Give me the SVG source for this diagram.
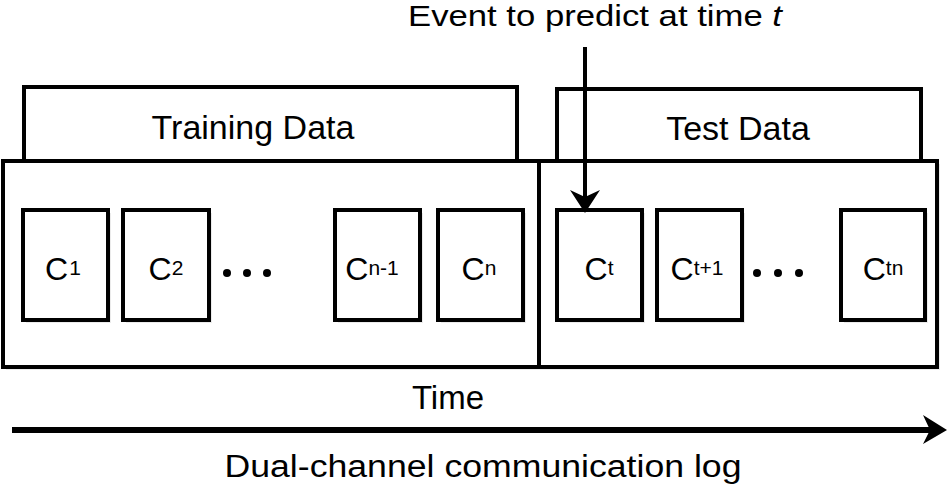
<svg xmlns="http://www.w3.org/2000/svg" width="948" height="487" viewBox="0 0 948 487">
<style>
.box{fill:#fff;stroke:#000;stroke-width:4}
.sh{fill:#ebebeb;stroke:none}
.t{font-family:"Liberation Sans",Arial,sans-serif;fill:#000}
.c{font-size:32px;text-anchor:middle}
.s{font-size:21px}
.dot{fill:#000}
</style>
<rect width="948" height="487" fill="#fff"/>
<g id="training-header">
<rect class="box" x="24" y="87" width="493" height="74"/>
<text class="t" x="253" y="139" font-size="34" text-anchor="middle">Training Data</text>
</g>
<g id="test-header">
<rect class="box" x="557" y="89" width="364" height="72"/>
<text class="t" x="738" y="140" font-size="34" text-anchor="middle">Test Data</text>
</g>
<g id="training-box">
<rect class="sh" x="6" y="164" width="536" height="206"/>
<rect class="box" x="3" y="161" width="536" height="206"/>
</g>
<g id="test-box">
<rect class="sh" x="542" y="164" width="398" height="206"/>
<rect class="box" x="539" y="161" width="398" height="206"/>
</g>
<g id="c1">
<rect class="sh" x="26" y="213" width="85" height="110"/>
<rect class="box" x="23" y="210" width="85" height="110"/>
<text class="t c" x="63" y="280">C<tspan class="s" dx="1" dy="-5">1</tspan></text>
</g>
<g id="c2">
<rect class="sh" x="126" y="213" width="86" height="110"/>
<rect class="box" x="123" y="210" width="86" height="110"/>
<text class="t c" x="166" y="280">C<tspan class="s" dy="-5">2</tspan></text>
</g>
<g id="dots-left">
<circle class="dot" cx="227" cy="273" r="4"/>
<circle class="dot" cx="247" cy="273" r="4"/>
<circle class="dot" cx="267" cy="273" r="4"/>
</g>
<g id="cn-1">
<rect class="sh" x="338" y="213" width="85" height="110"/>
<rect class="box" x="335" y="210" width="85" height="110"/>
<text class="t c" x="372" y="280">C<tspan class="s" dy="-5">n-1</tspan></text>
</g>
<g id="cn">
<rect class="sh" x="441" y="213" width="85" height="110"/>
<rect class="box" x="438" y="210" width="85" height="110"/>
<text class="t c" x="479" y="280">C<tspan class="s" dy="-5">n</tspan></text>
</g>
<g id="ct">
<rect class="sh" x="560" y="213" width="85" height="110"/>
<rect class="box" x="557" y="210" width="85" height="110"/>
<text class="t c" x="599" y="280">C<tspan class="s" dy="-5">t</tspan></text>
</g>
<g id="ct1">
<rect class="sh" x="660" y="213" width="85" height="110"/>
<rect class="box" x="657" y="210" width="85" height="110"/>
<text class="t c" x="697" y="280">C<tspan class="s" dy="-5">t+1</tspan></text>
</g>
<g id="dots-right">
<circle class="dot" cx="757" cy="273" r="4"/>
<circle class="dot" cx="778" cy="273" r="4"/>
<circle class="dot" cx="799" cy="273" r="4"/>
</g>
<g id="ctn">
<rect class="sh" x="844" y="213" width="84" height="110"/>
<rect class="box" x="841" y="210" width="84" height="110"/>
<text class="t c" x="883" y="280">C<tspan class="s" dy="-5">tn</tspan></text>
</g>
<g id="labels">
<text class="t" x="595" y="26" font-size="29" text-anchor="middle" textLength="374" lengthAdjust="spacingAndGlyphs">Event to predict at time <tspan font-style="italic">t</tspan></text>
<text class="t" x="448" y="409" font-size="33" text-anchor="middle">Time</text>
<text class="t" x="483" y="477" font-size="31" text-anchor="middle" textLength="517" lengthAdjust="spacingAndGlyphs">Dual-channel communication log</text>
</g>
<g id="connectors" fill="none" stroke="#000">
<path d="M585,47 L585,210" stroke-width="4"/>
<path d="M570,190 L585,197 L600,190 L585,213 Z" fill="#000" stroke="none"/>
<path d="M12,430 L930,430" stroke-width="6"/>
<path d="M923,415 L947,430 L923,444 L930,430 Z" fill="#000" stroke="none"/>
</g>
</svg>
